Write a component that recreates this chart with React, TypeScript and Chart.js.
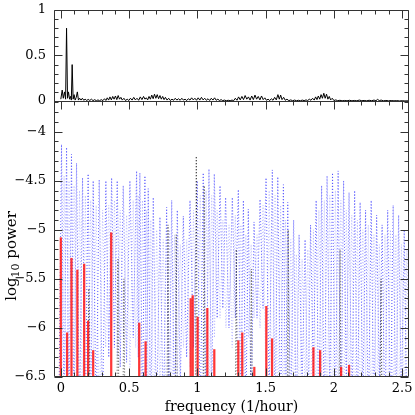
import React, { useEffect, useRef } from "react";
import { Chart, registerables } from "chart.js";
Chart.register(...registerables);

// ---------- data ----------
// top panel: normalised periodogram
const topFreq = [0.000,0.010,0.018,0.027,0.035,0.042,0.049,0.056,0.064,0.071,0.077,0.083,0.090,0.097,0.105,0.113,0.121,0.129,0.138,0.148,0.158,0.168,0.178,0.190,0.200,0.212,0.224,0.236,0.248,0.260,0.272,0.284,0.296,0.308,0.320,0.330,0.340,0.350,0.360,0.370,0.380,0.390,0.400,0.410,0.420,0.430,0.440,0.450,0.462,0.474,0.486,0.498,0.510,0.522,0.534,0.546,0.558,0.570,0.582,0.594,0.606,0.616,0.626,0.636,0.646,0.656,0.666,0.676,0.686,0.696,0.706,0.716,0.726,0.736,0.746,0.756,0.766,0.778,0.790,0.802,0.814,0.826,0.838,0.850,0.862,0.874,0.886,0.898,0.910,0.922,0.934,0.946,0.958,0.970,0.982,0.994,1.006,1.018,1.030,1.042,1.054,1.066,1.078,1.090,1.102,1.114,1.126,1.138,1.150,1.162,1.174,1.186,1.198,1.212,1.226,1.240,1.254,1.266,1.278,1.290,1.302,1.314,1.326,1.338,1.350,1.362,1.374,1.386,1.398,1.410,1.422,1.434,1.446,1.458,1.470,1.482,1.494,1.506,1.518,1.530,1.542,1.554,1.566,1.578,1.590,1.600,1.610,1.620,1.632,1.644,1.656,1.670,1.684,1.698,1.712,1.726,1.740,1.754,1.768,1.782,1.796,1.808,1.820,1.832,1.844,1.856,1.866,1.876,1.886,1.896,1.906,1.916,1.926,1.936,1.946,1.956,1.966,1.976,1.988,2.000,2.014,2.028,2.044,2.060,2.078,2.096,2.114,2.132,2.150,2.168,2.186,2.204,2.222,2.240,2.258,2.276,2.294,2.308,2.320,2.332,2.346,2.362,2.380,2.400,2.420,2.440,2.460,2.480,2.500,2.520,2.550];
const topPower = [0.02,0.12,0.03,0.10,0.02,0.80,0.03,0.10,0.02,0.05,0.01,0.40,0.02,0.07,0.01,0.04,0.10,0.01,0.03,0.01,0.03,0.008,0.02,0.005,0.018,0.006,0.02,0.004,0.015,0.003,0.012,0.003,0.015,0.004,0.025,0.006,0.035,0.01,0.045,0.012,0.05,0.02,0.055,0.015,0.06,0.02,0.04,0.01,0.03,0.005,0.02,0.006,0.03,0.01,0.04,0.012,0.03,0.008,0.045,0.015,0.05,0.02,0.035,0.012,0.05,0.02,0.065,0.025,0.075,0.03,0.07,0.025,0.06,0.02,0.05,0.015,0.04,0.01,0.03,0.006,0.02,0.008,0.03,0.01,0.025,0.008,0.03,0.01,0.02,0.005,0.025,0.01,0.035,0.012,0.03,0.008,0.035,0.01,0.04,0.012,0.03,0.008,0.025,0.006,0.03,0.01,0.035,0.008,0.02,0.005,0.015,0.004,0.01,0.003,0.008,0.003,0.01,0.004,0.03,0.008,0.045,0.012,0.05,0.015,0.06,0.02,0.045,0.01,0.055,0.015,0.065,0.02,0.05,0.012,0.055,0.015,0.035,0.008,0.02,0.005,0.025,0.008,0.04,0.012,0.07,0.02,0.065,0.015,0.04,0.008,0.02,0.004,0.012,0.003,0.01,0.003,0.008,0.002,0.01,0.004,0.012,0.005,0.02,0.008,0.03,0.01,0.045,0.015,0.055,0.02,0.07,0.03,0.085,0.03,0.075,0.02,0.05,0.012,0.03,0.005,0.012,0.003,0.008,0.002,0.006,0.002,0.008,0.002,0.006,0.002,0.01,0.003,0.006,0.002,0.008,0.003,0.01,0.003,0.018,0.004,0.01,0.002,0.006,0.002,0.005,0.002,0.004,0.001,0.003,0.001,0.002];

// lower panel: dark blue dotted curve (peaks and the minima that follow them)
const blueFreq = [0.005,0.042,0.078,0.115,0.159,0.200,0.237,0.281,0.330,0.372,0.413,0.457,0.506,0.555,0.579,0.616,0.640,0.677,0.726,0.775,0.812,0.853,0.897,0.946,0.999,1.043,1.085,1.124,1.166,1.207,1.256,1.300,1.337,1.373,1.415,1.459,1.503,1.549,1.589,1.630,1.662,1.705,1.745,1.789,1.829,1.870,1.910,1.950,1.990,2.031,2.071,2.111,2.152,2.192,2.232,2.273,2.313,2.353,2.394,2.434,2.474,2.515];
const bluePeak = [-4.13,-4.16,-4.23,-4.32,-4.47,-4.43,-4.50,-4.49,-4.50,-4.47,-4.50,-4.55,-4.50,-4.40,-4.42,-4.45,-4.58,-4.67,-4.87,-4.77,-4.70,-4.80,-4.86,-4.70,-4.50,-4.42,-4.38,-4.43,-4.55,-4.67,-4.67,-4.59,-4.70,-4.79,-4.92,-4.69,-4.47,-4.39,-4.46,-4.54,-4.72,-4.90,-5.05,-5.10,-4.95,-4.70,-4.55,-4.45,-4.42,-4.40,-4.50,-4.62,-4.60,-4.72,-4.80,-4.70,-4.85,-4.95,-4.80,-4.75,-4.85,-5.00];
const blueTrough = [-7,-7,-7,-7,-7,-7,-7,-6.9,-6.3,-6.2,-6.4,-6.35,-6.1,-6.3,-6.9,-7,-7,-7,-7,-7,-7,-6.6,-6.3,-6.2,-7,-7,-6.8,-5.9,-5.8,-6.0,-5.9,-6.8,-7,-6.9,-5.9,-5.8,-6.7,-7,-7,-7,-7,-7,-6.6,-7,-6.5,-7,-7,-6.7,-7,-7,-6.6,-7,-7,-6.8,-7,-7,-6.6,-7,-7,-7,-6.8,-7];

// lower panel: light blue dotted curve
const lightFreq = [0.024,0.060,0.097,0.137,0.180,0.219,0.259,0.306,0.351,0.393,0.435,0.482,0.530,0.567,0.598,0.628,0.659,0.702,0.750,0.794,0.833,0.875,0.922,0.972,1.021,1.064,1.105,1.145,1.187,1.232,1.278,1.319,1.355,1.394,1.437,1.481,1.526,1.569,1.610,1.646,1.684,1.725,1.767,1.809,1.850,1.890,1.930,1.970,2.011,2.051,2.091,2.131,2.172,2.212,2.252,2.293,2.333,2.374,2.414,2.454,2.495,2.535];
const lightPeak = [-4.45,-4.5,-4.55,-4.6,-4.65,-4.7,-4.75,-4.8,-4.75,-4.7,-4.8,-4.85,-4.7,-4.65,-4.7,-4.8,-4.9,-5.0,-5.1,-5.0,-5.05,-5.15,-5.1,-4.8,-4.65,-4.6,-4.65,-4.8,-4.9,-4.95,-4.85,-4.95,-5.05,-5.15,-5.05,-4.75,-4.6,-4.65,-4.75,-4.9,-5.1,-5.25,-5.3,-5.2,-5.0,-4.8,-4.7,-4.65,-4.6,-4.7,-4.8,-4.85,-4.9,-5.0,-4.95,-5.05,-5.15,-5.05,-5.0,-5.05,-5.15,-5.2];
const lightTrough = [-7,-6.5,-7,-6.8,-7,-6.4,-7,-6.2,-6.0,-6.3,-6.1,-6.4,-6.2,-7,-6.8,-7,-7,-6.6,-7,-6.9,-6.5,-6.2,-6.4,-7,-6.9,-7,-6.1,-5.9,-6.0,-6.2,-6.6,-7,-6.1,-5.9,-6.0,-6.7,-7,-7,-6.9,-7,-6.8,-7,-6.6,-7,-7,-6.5,-7,-7,-6.8,-7,-6.7,-7,-7,-6.6,-7,-6.9,-7,-7,-6.8,-7,-7,-7];

// lower panel: black dotted curve peaks
const blackFreq = [0.205,0.418,0.462,0.785,0.845,0.992,1.050,1.285,1.395,1.665,2.045,2.345];
const blackPeak = [-5.6,-5.3,-5.5,-4.95,-5.05,-4.25,-4.55,-5.2,-5.4,-5.0,-5.2,-5.5];

// lower panel: red spikes
const redFreq = [0.000,0.046,0.078,0.121,0.171,0.200,0.237,0.369,0.574,0.621,0.951,0.966,1.002,1.073,1.124,1.300,1.329,1.417,1.505,1.547,1.850,1.899,2.053,2.111];
const redPeak = [-5.08,-6.05,-5.29,-5.41,-5.35,-5.93,-6.23,-5.03,-5.95,-6.14,-5.70,-5.67,-5.89,-5.80,-6.22,-6.13,-6.05,-6.40,-5.78,-6.11,-6.20,-6.23,-6.40,-6.38];

// axes
const xTickValues = [0, 0.5, 1, 1.5, 2, 2.5];
const xTickLabels = ["0", "0.5", "1", "1.5", "2", "2.5"];
const topTickValues = [0, 0.5, 1];
const topTickLabels = ["0", "0.5", "1"];
const lowTickValues = [-6.5, -6, -5.5, -5, -4.5, -4];
const lowTickLabels = ["\u22126.5", "\u22126", "\u22125.5", "\u22125", "\u22124.5", "\u22124"];
const xTitle = "frequency (1/hour)";
const FLOOR = -7; // below the visible axis

const FONT = '"DejaVu Serif", serif';

function zigzag(freq: number[], peak: number[], trough: number[]) {
  const pts: { x: number; y: number }[] = [{ x: freq[0] - 0.02, y: FLOOR }];
  for (let i = 0; i < freq.length; i++) {
    pts.push({ x: freq[i], y: peak[i] });
    const nx = i < freq.length - 1 ? (freq[i] + freq[i + 1]) / 2 : freq[i] + 0.02;
    pts.push({ x: nx, y: trough[i] });
  }
  return pts;
}

function spikes(freq: number[], peak: number[]) {
  const pts: { x: number; y: number }[] = [];
  for (let i = 0; i < freq.length; i++) {
    pts.push({ x: freq[i] - 0.008, y: FLOOR });
    pts.push({ x: freq[i], y: peak[i] });
    pts.push({ x: freq[i] + 0.008, y: FLOOR });
  }
  return pts;
}

const framePlugin = {
  id: "framePlugin",
  afterDatasetsDraw(chart: any) {
    const { ctx, chartArea: a, scales } = chart;
    const x = scales.x, yt = scales.yt, yb = scales.yb;
    const sep = Math.round(yt.getPixelForValue(0)) + 0.5;
    const L = a.left + 0.5, R = a.right - 0.5, T = a.top + 0.5, B = a.bottom - 0.5;
    ctx.save();
    ctx.strokeStyle = "#333";
    ctx.lineWidth = 1;
    ctx.beginPath();
    ctx.rect(L, T, R - L, B - T);
    ctx.moveTo(L, sep);
    ctx.lineTo(R, sep);
    ctx.stroke();

    const minor = 4, major = 8;
    ctx.beginPath();
    for (let i = 0; i <= 25; i++) {
      const v = i / 10;
      const px = Math.round(x.getPixelForValue(v)) + 0.5;
      const len = i % 5 === 0 ? major : minor;
      ctx.moveTo(px, T); ctx.lineTo(px, T + len);
      ctx.moveTo(px, sep); ctx.lineTo(px, sep + len);
      ctx.moveTo(px, B); ctx.lineTo(px, B - len);
    }
    for (let i = 0; i <= 10; i++) {
      const py = Math.round(yt.getPixelForValue(i / 10)) + 0.5;
      const len = i % 5 === 0 ? major : minor;
      ctx.moveTo(L, py); ctx.lineTo(L + len, py);
      ctx.moveTo(R, py); ctx.lineTo(R - len, py);
    }
    for (let i = 65; i >= 37; i--) {
      const v = -i / 10;
      const py = Math.round(yb.getPixelForValue(v)) + 0.5;
      const len = i % 5 === 0 ? major : minor;
      ctx.moveTo(L, py); ctx.lineTo(L + len, py);
      ctx.moveTo(R, py); ctx.lineTo(R - len, py);
    }
    ctx.stroke();

    ctx.fillStyle = "#000";
    ctx.font = `13px ${FONT}`;
    ctx.textAlign = "right";
    ctx.textBaseline = "middle";
    topTickValues.forEach((v, i) => ctx.fillText(topTickLabels[i], a.left - 8, yt.getPixelForValue(v)));
    lowTickValues.forEach((v, i) => ctx.fillText(lowTickLabels[i], a.left - 8, yb.getPixelForValue(v)));
    ctx.textAlign = "center";
    xTickValues.forEach((v, i) => ctx.fillText(xTickLabels[i], x.getPixelForValue(v), a.bottom + 12));
    ctx.font = `14px ${FONT}`;
    ctx.fillText(xTitle, (a.left + a.right) / 2, a.bottom + 30);

    ctx.save();
    ctx.translate(12, 256);
    ctx.rotate(-Math.PI / 2);
    ctx.textAlign = "left";
    ctx.textBaseline = "middle";
    ctx.font = `15px ${FONT}`;
    const w1 = ctx.measureText("log").width;
    ctx.font = `11px ${FONT}`;
    const w2 = ctx.measureText("10").width;
    ctx.font = `15px ${FONT}`;
    const w3 = ctx.measureText(" power").width;
    let cx = -(w1 + w2 + w3) / 2;
    ctx.fillText("log", cx, 0);
    cx += w1;
    ctx.font = `11px ${FONT}`;
    ctx.fillText("10", cx, 4);
    cx += w2;
    ctx.font = `15px ${FONT}`;
    ctx.fillText(" power", cx, 0);
    ctx.restore();

    ctx.restore();
  },
};

export default function App() {
  const ref = useRef<HTMLCanvasElement | null>(null);
  useEffect(() => {
    if (!ref.current) return;
    const chart = new Chart(ref.current, {
      type: "line",
      data: {
        datasets: [
          {
            type: "bar",
            data: redFreq.map((f, i) => ({ x: f, y: [FLOOR, redPeak[i]] })) as any,
            backgroundColor: "rgba(255,20,20,0.85)",
            barThickness: 1.6,
            xAxisID: "x",
            yAxisID: "yb",
          } as any,
          {
            data: topFreq.map((f, i) => ({ x: f, y: topPower[i] })),
            borderColor: "#000",
            borderWidth: 1,
            pointRadius: 0,
            tension: 0,
            xAxisID: "x",
            yAxisID: "yt",
          },
          {
            data: spikes(blackFreq, blackPeak),
            borderColor: "rgba(0,0,0,0.7)",
            borderWidth: 1,
            borderDash: [1, 2],
            pointRadius: 0,
            xAxisID: "x",
            yAxisID: "yb",
          },
          {
            data: zigzag(blueFreq, bluePeak, blueTrough),
            borderColor: "rgba(60,60,255,0.8)",
            borderWidth: 1,
            borderDash: [1, 2],
            pointRadius: 0,
            xAxisID: "x",
            yAxisID: "yb",
          },
          {
            data: zigzag(lightFreq, lightPeak, lightTrough),
            borderColor: "rgba(140,140,255,0.55)",
            borderWidth: 1,
            borderDash: [1, 2],
            pointRadius: 0,
            xAxisID: "x",
            yAxisID: "yb",
          },
        ],
      },
      options: {
        animation: false,
        responsive: false,
        devicePixelRatio: 1,
        layout: { padding: { left: 54, right: 6, top: 10, bottom: 38 } },
        plugins: { legend: { display: false }, tooltip: { enabled: false } },
        scales: {
          x: { type: "linear", min: -0.05, max: 2.55, offset: false, display: false },
          yt: { type: "linear", min: -3.033, max: 1, display: false },
          yb: { type: "linear", min: -6.5, max: -2.76, display: false },
        },
      },
      plugins: [framePlugin],
    });
    return () => chart.destroy();
  }, []);
  return (
    <div style={{ position: "absolute", left: 0, top: 0, width: 415, height: 415, background: "#fff" }}>
      <canvas ref={ref} width={415} height={415} />
    </div>
  );
}
